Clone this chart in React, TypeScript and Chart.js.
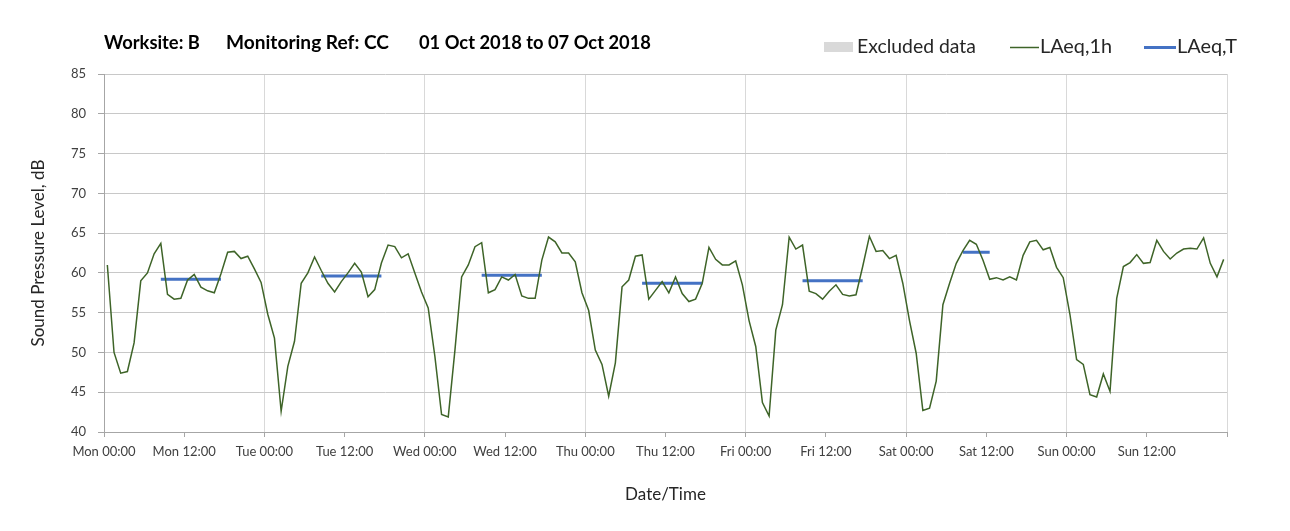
import React, { useEffect, useRef } from 'react';
import { Chart, registerables } from 'chart.js';

Chart.register(...registerables);

// ---------- data ----------
const DAYS = ['Mon', 'Tue', 'Wed', 'Thu', 'Fri', 'Sat', 'Sun'];
const TICK_TIMES = ['00:00', '12:00'];

// Hourly LAeq,1h values (dB), one array per day, hours 00..23
const LAEQ_1H_MON = [61.0, 50.0, 47.4, 47.6, 51.2, 59.0, 60.0, 62.4, 63.7, 57.3, 56.7, 56.8, 59.1, 59.8, 58.2, 57.75, 57.5, 59.9, 62.6, 62.7, 61.8, 62.1, 60.5, 58.8];
const LAEQ_1H_TUE = [54.8, 51.8, 42.6, 48.25, 51.4, 58.7, 60.0, 62.0, 60.3, 58.7, 57.6, 58.9, 60.0, 61.2, 60.1, 57.0, 57.9, 61.25, 63.5, 63.3, 61.9, 62.4, 60.0, 57.6];
const LAEQ_1H_WED = [55.6, 49.5, 42.2, 41.9, 50.3, 59.5, 61.0, 63.3, 63.8, 57.5, 57.9, 59.5, 59.1, 59.8, 57.1, 56.8, 56.8, 61.6, 64.5, 63.9, 62.5, 62.5, 61.4, 57.5];
const LAEQ_1H_THU = [55.3, 50.3, 48.5, 44.5, 48.7, 58.25, 59.1, 62.1, 62.25, 56.7, 57.8, 58.9, 57.5, 59.5, 57.4, 56.4, 56.7, 58.7, 63.2, 61.7, 61.0, 61.0, 61.5, 58.5];
const LAEQ_1H_FRI = [54.0, 50.75, 43.7, 42.0, 52.8, 56.0, 64.5, 63.0, 63.5, 57.7, 57.4, 56.7, 57.7, 58.5, 57.3, 57.1, 57.25, 60.8, 64.6, 62.7, 62.8, 61.8, 62.2, 58.7];
const LAEQ_1H_SAT = [54.0, 49.9, 42.7, 43.0, 46.4, 56.0, 58.7, 61.2, 62.8, 64.1, 63.6, 61.6, 59.2, 59.4, 59.1, 59.5, 59.1, 62.2, 63.9, 64.1, 62.9, 63.2, 60.7, 59.4];
const LAEQ_1H_SUN = [54.8, 49.1, 48.5, 44.7, 44.4, 47.3, 45.1, 56.8, 60.8, 61.3, 62.3, 61.2, 61.3, 64.1, 62.7, 61.75, 62.5, 63.0, 63.1, 63.0, 64.4, 61.2, 59.5, 61.7];

// LAeq,T over the working period of each day (null = no period)
const LAEQ_T = [59.2, 59.6, 59.7, 58.7, 59.0, 62.6, null];
const PERIOD_START_HOUR = [8, 8, 8, 8, 8, 8, null];
const PERIOD_END_HOUR = [18, 18, 18, 18, 18, 13, null];

const Y_MIN = 40;
const Y_MAX = 85;
const Y_STEP = 5;

const TITLE_PARTS = ['Worksite: B', 'Monitoring Ref: CC', '01 Oct 2018 to 07 Oct 2018'];
const LEGEND_LABELS = ['Excluded data', 'LAeq,1h', 'LAeq,T'];
const Y_TITLE = 'Sound Pressure Level, dB';
const X_TITLE = 'Date/Time';

// ---------- derived ----------
const HOURLY_BY_DAY = [LAEQ_1H_MON, LAEQ_1H_TUE, LAEQ_1H_WED, LAEQ_1H_THU, LAEQ_1H_FRI, LAEQ_1H_SAT, LAEQ_1H_SUN];
const HOURS_PER_DAY = 24;
const HALF_HOUR = 0.5; // hourly values are plotted at the middle of their hour

const FONT = 'Lato, "Open Sans", "DejaVu Sans", sans-serif';
const GREEN = '#3E6428';
const BLUE = '#4472C4';
const EXCLUDED = '#D9D9D9';

function buildHourly() {
  const pts: { x: number; y: number }[] = [];
  HOURLY_BY_DAY.forEach((vals, d) => {
    vals.forEach((v, h) => pts.push({ x: d * HOURS_PER_DAY + h + HALF_HOUR, y: v }));
  });
  return pts;
}

function buildPeriod() {
  const pts: { x: number; y: number | null }[] = [];
  LAEQ_T.forEach((v, d) => {
    const s = PERIOD_START_HOUR[d];
    const e = PERIOD_END_HOUR[d];
    if (v == null || s == null || e == null) return;
    for (let h = s; h < e; h++) pts.push({ x: d * HOURS_PER_DAY + h + HALF_HOUR, y: v });
    pts.push({ x: d * HOURS_PER_DAY + e + HALF_HOUR, y: null });
  });
  return pts;
}

const decorPlugin = {
  id: 'decor',
  beforeDraw(chart: any) {
    const { ctx, width, height } = chart;
    ctx.save();
    ctx.fillStyle = '#ffffff';
    ctx.fillRect(0, 0, width, height);
    ctx.restore();
  },
  afterDraw(chart: any) {
    const ctx = chart.ctx as CanvasRenderingContext2D;
    const fit = (text: string, x: number, y: number, w: number, weight: string, color: string) => {
      ctx.font = `${weight} 100px ${FONT}`;
      const m = ctx.measureText(text).width;
      const size = (100 * w) / m;
      ctx.font = `${weight} ${size}px ${FONT}`;
      ctx.fillStyle = color;
      ctx.textAlign = 'left';
      ctx.textBaseline = 'middle';
      ctx.fillText(text, x, y);
    };
    ctx.save();
    // title
    fit(TITLE_PARTS[0], 104, 43, 96, 'bold', '#000000');
    fit(TITLE_PARTS[1], 226, 43, 163, 'bold', '#000000');
    fit(TITLE_PARTS[2], 419, 43, 232, 'bold', '#000000');
    // legend
    ctx.fillStyle = EXCLUDED;
    ctx.fillRect(824, 42, 29, 10);
    fit(LEGEND_LABELS[0], 857, 47, 119, 'normal', '#262626');
    ctx.strokeStyle = GREEN;
    ctx.lineWidth = 1.5;
    ctx.beginPath();
    ctx.moveTo(1010, 47.5);
    ctx.lineTo(1039, 47.5);
    ctx.stroke();
    fit(LEGEND_LABELS[1], 1040, 47, 72, 'normal', '#262626');
    ctx.strokeStyle = BLUE;
    ctx.lineWidth = 3;
    ctx.beginPath();
    ctx.moveTo(1144, 47.5);
    ctx.lineTo(1176, 47.5);
    ctx.stroke();
    fit(LEGEND_LABELS[2], 1177, 47, 60, 'normal', '#262626');
    ctx.restore();
  },
};

export default function App() {
  const ref = useRef<HTMLCanvasElement | null>(null);

  useEffect(() => {
    if (!ref.current) return;
    const chart = new Chart(ref.current, {
      type: 'line',
      data: {
        datasets: [
          {
            label: LEGEND_LABELS[1],
            data: buildHourly(),
            borderColor: GREEN,
            borderWidth: 1.5,
            pointRadius: 0,
            tension: 0,
            fill: false,
          },
          {
            label: LEGEND_LABELS[2],
            data: buildPeriod(),
            borderColor: BLUE,
            borderWidth: 3,
            pointRadius: 0,
            tension: 0,
            fill: false,
            spanGaps: false,
          },
        ],
      },
      options: {
        animation: false,
        responsive: false,
        devicePixelRatio: 1,
        layout: { padding: { top: 74, right: 63, left: 0, bottom: 0 } },
        plugins: {
          legend: { display: false },
          title: { display: false },
          tooltip: { enabled: false },
        },
        scales: {
          x: {
            type: 'linear',
            min: 0,
            max: DAYS.length * HOURS_PER_DAY,
            afterFit: (scale: any) => {
              scale.height = 99;
            },
            afterBuildTicks: (scale: any) => {
              const t = [];
              for (let v = 0; v <= DAYS.length * HOURS_PER_DAY; v += 12) t.push({ value: v });
              scale.ticks = t;
            },
            ticks: {
              autoSkip: false,
              maxRotation: 0,
              minRotation: 0,
              padding: 7,
              color: '#404040',
              font: { family: FONT, size: 13 },
              callback: (value: any) => {
                const v = Number(value);
                const d = Math.floor(v / HOURS_PER_DAY);
                if (d >= DAYS.length) return '';
                return `${DAYS[d]} ${TICK_TIMES[(v % HOURS_PER_DAY) / 12]}`;
              },
            },
            grid: {
              color: (c: any) => (c.tick && c.tick.value % HOURS_PER_DAY === 0 ? '#D9D9D9' : 'rgba(0,0,0,0)'),
              tickColor: '#A6A6A6',
              tickLength: 5,
              lineWidth: 1,
            },
            border: { color: '#A6A6A6', width: 1 },
            title: {
              display: true,
              text: X_TITLE,
              color: '#262626',
              font: { family: FONT, size: 17 },
              padding: { top: 0, bottom: 26 },
            },
          },
          y: {
            min: Y_MIN,
            max: Y_MAX,
            afterFit: (scale: any) => {
              scale.width = 104;
            },
            ticks: {
              stepSize: Y_STEP,
              padding: 12,
              color: '#404040',
              font: { family: FONT, size: 13 },
            },
            grid: {
              color: '#C8C8C8',
              tickColor: '#A6A6A6',
              tickLength: 6,
              lineWidth: 1,
            },
            border: { color: '#A6A6A6', width: 1 },
            title: {
              display: true,
              text: Y_TITLE,
              color: '#262626',
              font: { family: FONT, size: 17 },
              padding: { top: 28, bottom: 0 },
            },
          },
        },
      },
      plugins: [decorPlugin],
    } as any);
    return () => chart.destroy();
  }, []);

  return (
    <div style={{ position: 'absolute', left: 0, top: 0, width: 1290, height: 531 }}>
      <canvas ref={ref} width={1290} height={531} style={{ display: 'block', width: 1290, height: 531 }} />
    </div>
  );
}
